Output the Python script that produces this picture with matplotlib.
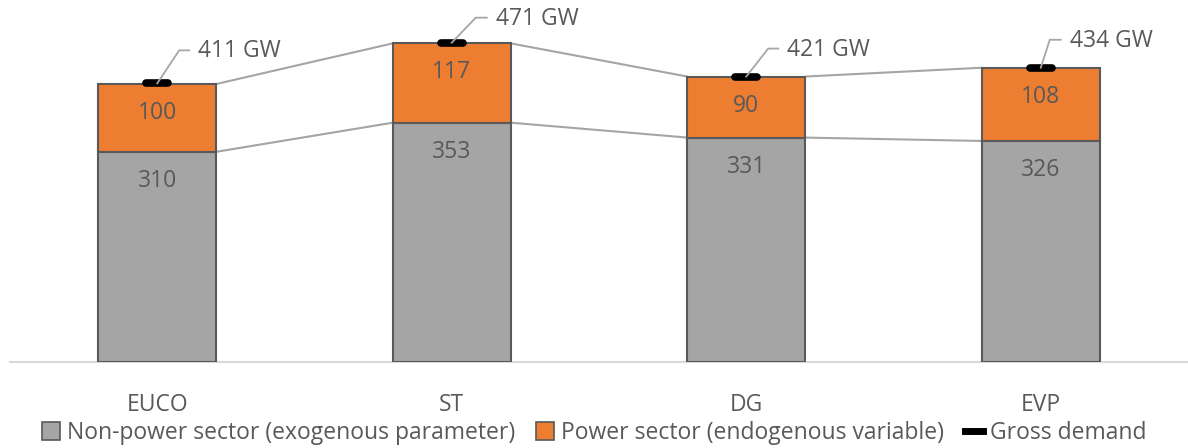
import matplotlib.pyplot as plt
from matplotlib.patches import Patch
from matplotlib.lines import Line2D

# data
scenarios = ["EUCO", "ST", "DG", "EVP"]
non_power = [310, 353, 331, 326]
power = [100, 117, 90, 108]
gross_demand = [411, 471, 421, 434]

# leader line offsets for the GW labels, in pixels (dx bend, dx end, dy)
leader = [(22, 32, 33), (24, 35, 25), (22, 32, 28), (9, 20, 28)]

GREY = "#a5a5a5"
ORANGE = "#ed7d31"
EDGE = "#595959"
TXT = "#595959"
FONT = "Open Sans"
FS = 16.5

plt.rcParams["font.family"] = [FONT, "DejaVu Sans"]

W, H = 1188, 448
fig = plt.figure(figsize=(W / 100, H / 100), dpi=100)
ax_left, ax_right, ax_bot, ax_top = 10, 1188, 362, 23
ax = fig.add_axes([ax_left / W, 1 - ax_bot / H, (ax_right - ax_left) / W, (ax_bot - ax_top) / H])
ax.set_xlim(-0.5, len(scenarios) - 0.5)
ax.set_ylim(0, 500)

# pixel -> data conversions (axes size is fixed)
px_x = len(scenarios) / (ax_right - ax_left)
px_y = 500 / (ax_bot - ax_top)

x = list(range(len(scenarios)))
bw = 0.40
ax.bar(x, non_power, width=bw, color=GREY, edgecolor=EDGE, linewidth=1.5, zorder=3)
ax.bar(x, power, width=bw, bottom=non_power, color=ORANGE, edgecolor=EDGE, linewidth=1.5, zorder=3)

# series lines between bars
tops = [a + b for a, b in zip(non_power, power)]
for i in range(len(x) - 1):
    for lvl in (non_power, tops):
        ax.plot([x[i] + bw / 2, x[i + 1] - bw / 2], [lvl[i], lvl[i + 1]],
                color=GREY, lw=1.5, zorder=2, solid_capstyle="butt")

# value labels, inside end
for i in x:
    ax.text(i, non_power[i] - 29 * px_y, str(non_power[i]), ha="center", va="center",
            fontsize=FS, color=TXT, zorder=5)
    ax.text(i, tops[i] - 29 * px_y, str(power[i]), ha="center", va="center",
            fontsize=FS, color=TXT, zorder=5)

# gross demand markers + leader lines
for i in x:
    d = gross_demand[i]
    b1, b2, dy = leader[i]
    ax.plot([i, i + b1 * px_x, i + b2 * px_x], [d, d + dy * px_y, d + dy * px_y],
            color="#a6a6a6", lw=1.3, zorder=6, clip_on=False)
    ax.text(i + (b2 + 9) * px_x, d + (dy - 1) * px_y, f"{d} GW", ha="left", va="center",
            fontsize=FS, color=TXT, zorder=6, clip_on=False)
    half = 11 * px_x
    ax.plot([i - half, i + half], [d, d], color="black", lw=5.5,
            solid_capstyle="round", zorder=5)

# axes styling
for s in ["top", "right", "left"]:
    ax.spines[s].set_visible(False)
ax.spines["bottom"].set_color("#d9d9d9")
ax.spines["bottom"].set_linewidth(1.5)
ax.set_yticks([])
ax.set_xticks(x)
ax.set_xticklabels(scenarios, fontsize=FS, color=TXT)
ax.tick_params(axis="x", length=0, pad=22)

handles = [
    Patch(facecolor=GREY, edgecolor=EDGE, linewidth=1.2, label="Non-power sector (exogenous parameter)"),
    Patch(facecolor=ORANGE, edgecolor=EDGE, linewidth=1.2, label="Power sector (endogenous variable)"),
    Line2D([0], [0], color="black", lw=5, label="Gross demand"),
]
fig.legend(handles=handles, loc="center", bbox_to_anchor=(0.5, 1 - 433 / H), ncol=3,
           frameon=False, fontsize=FS, labelcolor=TXT, handlelength=0.8, handleheight=0.8,
           handletextpad=0.3, columnspacing=0.9, borderpad=0)

fig.savefig("out.png", dpi=100)
